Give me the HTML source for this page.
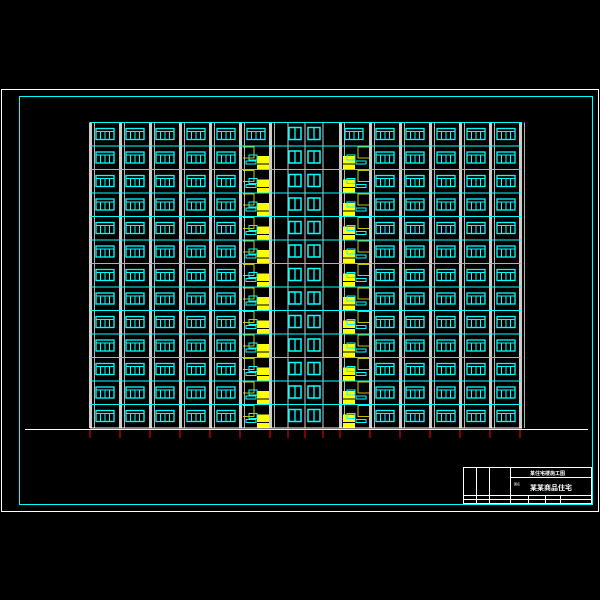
<!DOCTYPE html>
<html><head><meta charset="utf-8"><style>
html,body{margin:0;padding:0;background:#000;width:600px;height:600px;overflow:hidden}
svg{display:block}
</style></head><body>
<svg id="s" width="600" height="600" viewBox="0 0 600 600" xmlns="http://www.w3.org/2000/svg">
<rect x="0" y="0" width="600" height="600" fill="#000"/>
<rect x="1.5" y="89.5" width="597" height="422" fill="none" stroke="#fff" stroke-width="1"/>
<rect x="19.5" y="96.5" width="573" height="408" fill="none" stroke="#0ff" stroke-width="1"/>
<g id="b"></g>
<line x1="25" y1="429.5" x2="588" y2="429.5" stroke="#fff" stroke-width="1"/>
<g font-family="Liberation Sans, Noto Sans CJK SC, sans-serif" fill="#fff">
<rect x="463.5" y="467.5" width="128" height="36" fill="none" stroke="#fff"/>
<line x1="463" y1="495.5" x2="592" y2="495.5" stroke="#fff"/>
<line x1="463" y1="499.5" x2="592" y2="499.5" stroke="#fff"/>
<line x1="510.5" y1="467" x2="510.5" y2="504" stroke="#fff"/>
<line x1="510" y1="477.5" x2="592" y2="477.5" stroke="#fff"/>
<line x1="476.5" y1="467" x2="476.5" y2="504" stroke="#fff"/>
<line x1="489.5" y1="467" x2="489.5" y2="504" stroke="#fff"/>
<line x1="528.5" y1="495" x2="528.5" y2="504" stroke="#fff"/>
<line x1="545.5" y1="495" x2="545.5" y2="504" stroke="#fff"/>
<line x1="560.5" y1="495" x2="560.5" y2="504" stroke="#fff"/>
<text x="530" y="475" font-size="5" font-weight="bold">某住宅楼施工图</text>
<text x="530" y="490" font-size="7" font-weight="bold">某某商品住宅</text>
<text x="514" y="485" font-size="3">图名</text>
</g>
</svg>
<script>
(function(){
var g=document.getElementById('b'),h='';
var T=122.5,rh=23.5,n=13,B=T+rh*n;
var xs=[90,120,150,180,210,240,270,340,370,400,430,460,490,520];
for(var i=0;i<xs.length;i++){var x=xs[i];
 h+='<rect x="'+(x-1)+'" y="'+T+'" width="3" height="'+(B-T)+'" fill="#ccc"/>';
 h+='<line x1="'+(x+4.5)+'" y1="'+T+'" x2="'+(x+4.5)+'" y2="'+B+'" stroke="#fff" stroke-width="0.7"/>';
 h+='<line x1="'+x+'" y1="430" x2="'+x+'" y2="438" stroke="#f00" stroke-width="1"/>';}
[288,305,323].forEach(function(x){h+='<line x1="'+x+'" y1="'+T+'" x2="'+x+'" y2="'+B+'" stroke="#ccc" stroke-width="1"/>';
 h+='<line x1="'+x+'" y1="430" x2="'+x+'" y2="438" stroke="#f00"/>';});
function win(cx,cy,w){var x=cx-w/2;
 var s='<rect x="'+x+'" y="'+(cy-5)+'" width="'+w+'" height="11" fill="none" stroke="#0ff" stroke-width="1.3"/>';
 s+='<line x1="'+x+'" y1="'+(cy-2)+'" x2="'+(x+w)+'" y2="'+(cy-2)+'" stroke="#0ff" stroke-width="1"/>';
 for(var k=1;k<4;k++)s+='<line x1="'+(x+w*k/4)+'" y1="'+(cy-2)+'" x2="'+(x+w*k/4)+'" y2="'+(cy+6)+'" stroke="#0ff" stroke-width="1"/>';
 return s;}
function win2(cx,cy){var x=cx-6;return '<rect x="'+x+'" y="'+(cy-6)+'" width="12" height="12" fill="none" stroke="#0ff" stroke-width="1.5"/><line x1="'+cx+'" y1="'+(cy-6)+'" x2="'+cx+'" y2="'+(cy+6)+'" stroke="#0ff" stroke-width="1.3"/>';}
var wc=[105,135,165,196,226,385,415,446,476,506];
for(var r=0;r<n;r++){var y=T+r*rh,cy=y+11;
 wc.forEach(function(c){h+=win(c,cy,18);});
 h+=win2(295,cy)+win2(314,cy);
 if(r==0){h+=win(256,cy,18);h+=win(354,cy,18);}
 else{
  h+='<rect x="257" y="'+(y+10)+'" width="12" height="13" fill="#ff0"/><line x1="257" y1="'+(y+18)+'" x2="269" y2="'+(y+18)+'" stroke="#000"/>';
  h+='<polyline points="243,'+(y+1)+' 254,'+(y+1)+' 254,'+(y+12)+' 243,'+(y+12)+'" fill="none" stroke="#ff0" stroke-width="0.8"/>';
  h+='<rect x="249" y="'+(y+9)+'" width="8" height="5" fill="none" stroke="#0ff"/><rect x="246" y="'+(y+15)+'" width="10" height="3" fill="none" stroke="#0ff"/>';
  h+='<rect x="343" y="'+(y+10)+'" width="12" height="13" fill="#ff0"/><line x1="343" y1="'+(y+18)+'" x2="355" y2="'+(y+18)+'" stroke="#000"/>';
  h+='<polyline points="369,'+(y+1)+' 358,'+(y+1)+' 358,'+(y+12)+' 369,'+(y+12)+'" fill="none" stroke="#ff0" stroke-width="0.8"/>';
  h+='<rect x="347" y="'+(y+9)+'" width="8" height="5" fill="none" stroke="#0ff"/><rect x="356" y="'+(y+15)+'" width="10" height="3" fill="none" stroke="#0ff"/>';
 }
 h+='<line x1="90" y1="'+y+'" x2="522" y2="'+y+'" stroke="#0ff" stroke-width="1"/>';
}
h+='<line x1="90" y1="'+B+'" x2="522" y2="'+B+'" stroke="#fff" stroke-width="1"/>';
g.innerHTML=h;
})();
</script>
</body></html>
